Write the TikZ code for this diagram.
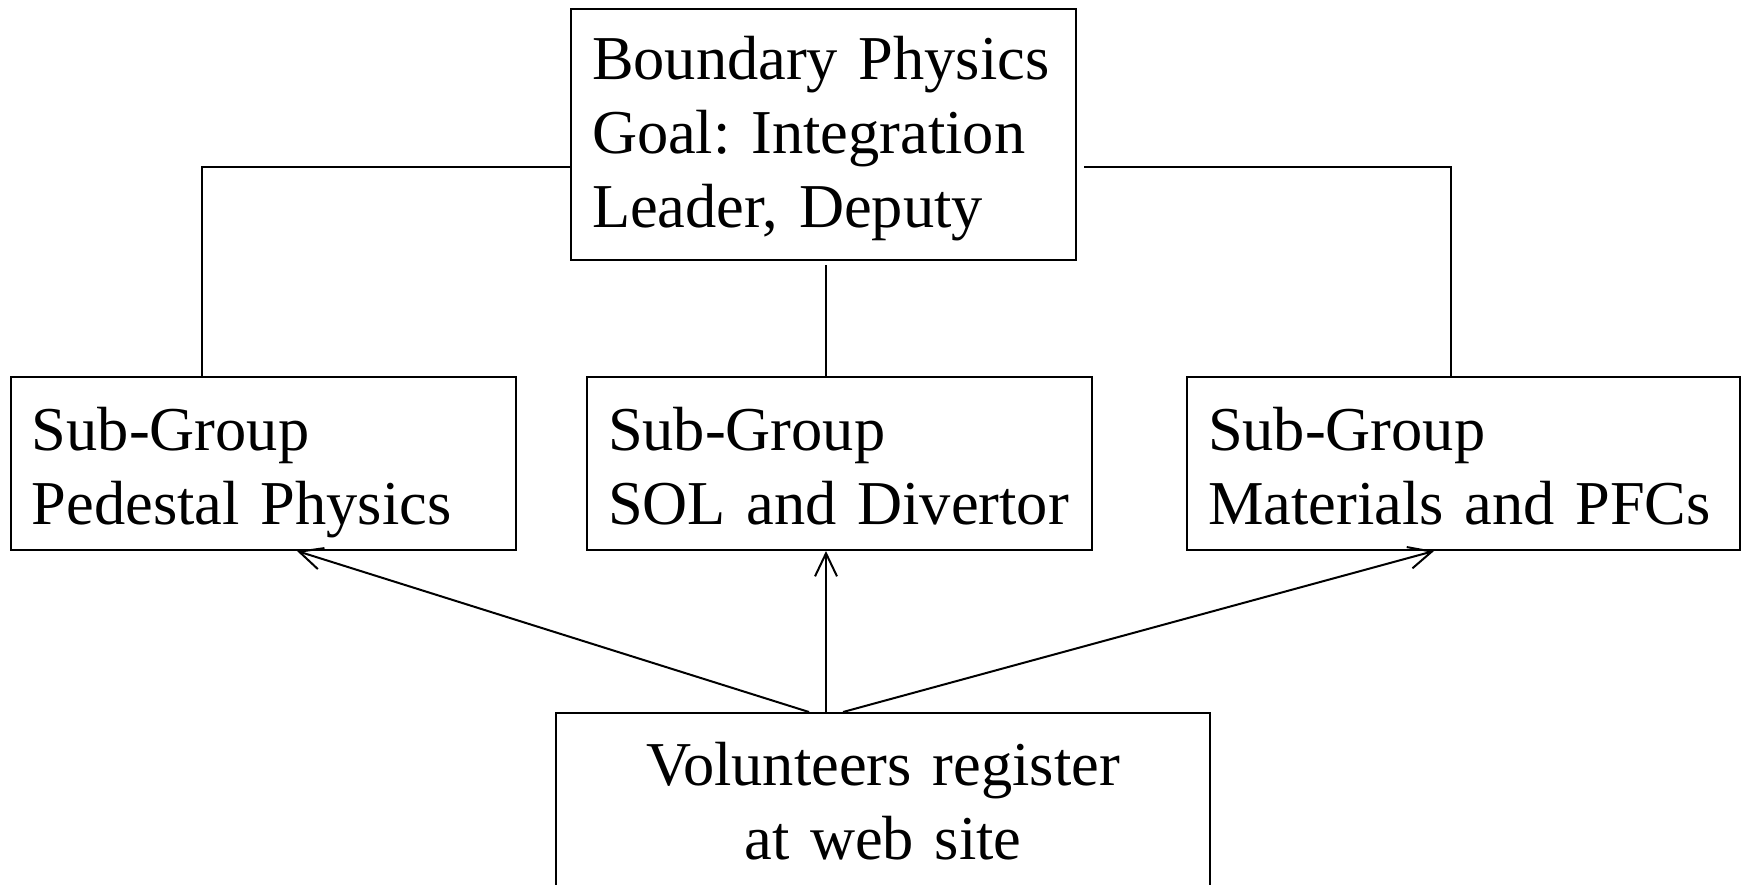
\documentclass[tikz,border=0pt]{standalone}
\usepackage{fontspec}
\setmainfont{Liberation Serif}
\usetikzlibrary{arrows.meta,calc}
\begin{document}
\frenchspacing\hyphenpenalty=10000\relax
\begin{tikzpicture}[x=0.5pt,y=-0.5pt,
  box/.style={draw,line width=1pt,rectangle,anchor=north west,inner xsep=10.5pt,inner ysep=0pt,
    font=\fontsize{31.2}{37}\selectfont},
  topbox/.style={box,text width=231.5pt,align=left,text height=35pt,text depth=90.5pt},
  subbox/.style={box,align=left,text height=36.5pt,text depth=50pt},
  conn/.style={line width=1pt},
  arr/.style={line width=1pt,-{Straight Barb[length=11.5pt,width=11pt,line width=1pt]}}]
\useasboundingbox (0,0) rectangle (1743,884);
\node[topbox] (top) at (570,8)
  {\mbox{Boundary Physics}\\\mbox{Goal: Integration}\\\mbox{Leader, Deputy}};
\node[subbox,text width=231.5pt] (left) at (10,376)
  {\mbox{Sub-Group}\\\mbox{Pedestal Physics}};
\node[subbox,text width=231.5pt] (mid) at (586,376)
  {\mbox{Sub-Group}\\\mbox{SOL and Divertor}};
\node[subbox,text width=255.5pt] (right) at (1186,376)
  {\mbox{Sub-Group}\\\mbox{Materials and PFCs}};
\node[box,text width=306pt,align=center,text height=36pt,text depth=58pt] (vol) at (555,712)
  {Volunteers register\\at web site};
% top to sub-groups
\coordinate (tl) at ($(top.north west)+(0,159)$);
\coordinate (ll) at ($(left.north west)+(192,0)$);
\draw[conn] (tl) -| (ll);
\coordinate (tr) at ($(top.north east)+(7,159)$);
\coordinate (rr) at ($(right.north west)+(265,0)$);
\draw[conn] (tr) -| (rr);
\coordinate (tm) at ($(top.south west)+(256,4)$);
\draw[conn] (tm) -- (tm |- mid.north);
% arrows
\coordinate (v1) at ($(vol.north west)+(254,0)$);
\coordinate (v2) at ($(vol.north west)+(271,0)$);
\coordinate (v3) at ($(vol.north west)+(288,0)$);
\coordinate (a1) at ($(left.south west)+(287,0)$);
\coordinate (a3) at ($(right.south west)+(248,0)$);
\draw[arr] (v1) -- (a1);
\draw[arr] (v2) -- (v2 |- mid.south);
\draw[arr] (v3) -- (a3);
\end{tikzpicture}
\end{document}
